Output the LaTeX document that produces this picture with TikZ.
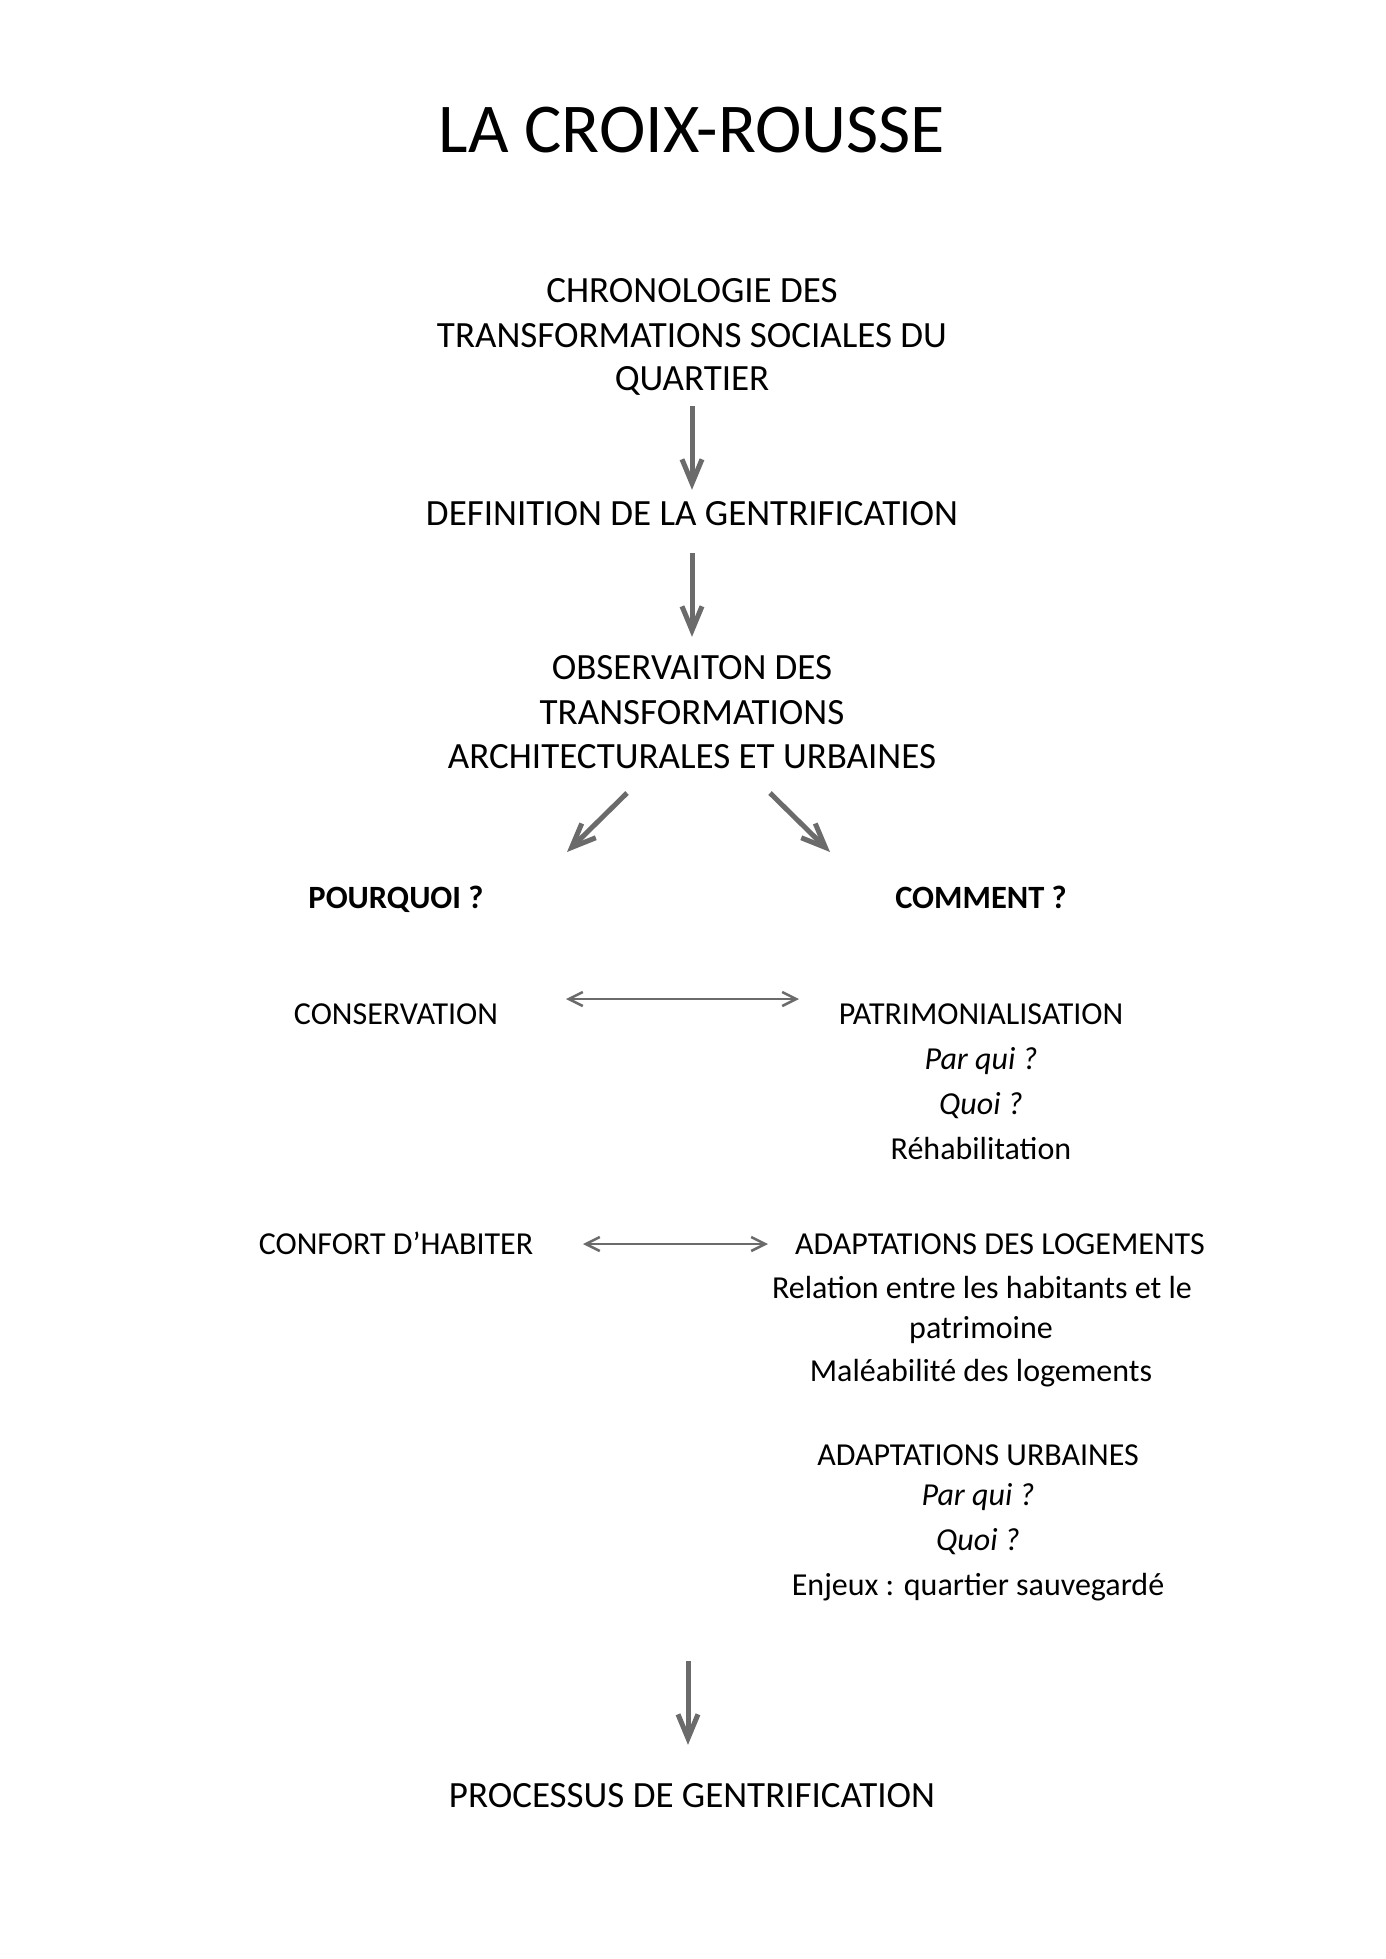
\documentclass[tikz,border=0pt]{standalone}
\usepackage{fontspec}
\setmainfont{Carlito}
\usetikzlibrary{arrows.meta}
\definecolor{arrowgray}{HTML}{6B6B6B}
\begin{document}
\begin{tikzpicture}[x=1pt,y=-1pt,
  txt/.style={inner sep=0pt, anchor=base, text=black},
  titletxt/.style={txt, font=\fontsize{70}{82}\selectfont},
  big/.style={txt, font=\fontsize{37}{44}\selectfont, text height=24pt, text depth=8pt},
  small/.style={txt, font=\fontsize{32}{38}\selectfont, text height=21pt, text depth=7pt},
  smallit/.style={small, font=\fontsize{32}{38}\selectfont\itshape},
  smallbf/.style={small, font=\fontsize{32.5}{38}\selectfont\bfseries},
  bigarrow/.style={draw=arrowgray, line width=5pt, -{Straight Barb[length=24pt,width=20pt]}},
  dblarrow/.style={draw=arrowgray, line width=2.5pt, {Straight Barb[length=14pt,width=14pt]}-{Straight Barb[length=14pt,width=14pt]}}
]
\path[use as bounding box, fill=white] (0,0) rectangle (1385,1959);

\node[titletxt] (title) at (692,152) {LA CROIX-ROUSSE};

\node[big] (chronoA) at (692,302) {CHRONOLOGIE DES};
\node[big] (chronoB) at (692,347) {TRANSFORMATIONS SOCIALES DU};
\node[big] (chronoC) at (692,390) {QUARTIER};

\node[big] (defn) at (692,525) {DEFINITION DE LA GENTRIFICATION};

\node[big] (obsA) at (692,679) {OBSERVAITON DES};
\node[big] (obsB) at (692,724) {TRANSFORMATIONS};
\node[big] (obsC) at (692,768) {ARCHITECTURALES ET URBAINES};

\node[smallbf] (pourquoi) at (396,908) {POURQUOI ?};
\node[smallbf] (comment) at (981,908) {COMMENT ?};

\node[small] (cons) at (396,1024) {CONSERVATION};
\node[small] (patri) at (981,1024) {PATRIMONIALISATION};
\node[smallit] (parquiA) at (981,1069) {Par qui ?};
\node[smallit] (quoiA) at (981,1114) {Quoi ?};
\node[small] (rehab) at (981,1159) {Réhabilitation};

\node[small] (confort) at (396,1254) {CONFORT D’HABITER};
\node[small] (adaptlog) at (1000,1254) {ADAPTATIONS DES LOGEMENTS};
\node[small] (relation) at (982,1298) {Relation entre les habitants et le};
\node[small] (patrimoine) at (981,1338) {patrimoine};
\node[small] (maleab) at (981,1381) {Maléabilité des logements};

\node[small] (adapturb) at (978,1465) {ADAPTATIONS URBAINES};
\node[smallit] (parquiB) at (978,1505) {Par qui ?};
\node[smallit] (quoiB) at (978,1550) {Quoi ?};
\node[small] (enjeux) at (978,1595) {Enjeux : quartier sauvegardé};

\node[big] (proc) at (692,1807) {PROCESSUS DE GENTRIFICATION};

% connectors
\draw[bigarrow, shorten <=8pt, shorten >=11pt] (chronoC) -- (defn);
\draw[bigarrow, shorten <=20pt, shorten >=18pt] (defn) -- (obsA);

\coordinate (dlA) at (627,793);
\coordinate (dlB) at (567,852);
\coordinate (drA) at (770,793);
\coordinate (drB) at (830,852);
\draw[bigarrow] (dlA) -- (dlB);
\draw[bigarrow] (drA) -- (drB);

\coordinate (cA) at (566,999);
\coordinate (cB) at (799,999);
\draw[dblarrow] (cA) -- (cB);

\coordinate (hA) at (583,1244);
\coordinate (hB) at (768,1244);
\draw[dblarrow] (hA) -- (hB);

\coordinate (pA) at (688,1661);
\draw[bigarrow, shorten >=38pt] (pA) -- (pA |- proc.north);
\end{tikzpicture}
\end{document}
